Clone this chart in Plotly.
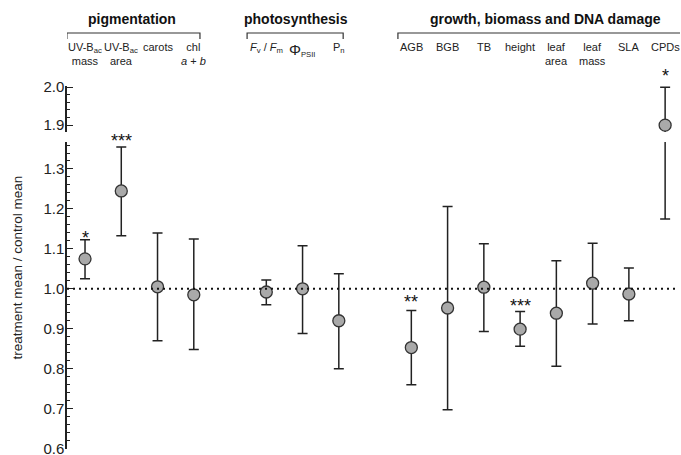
import plotly.graph_objects as go

# ---------------- data ----------------
labels = ["UV-B<sub>ac</sub><br>mass", "UV-B<sub>ac</sub><br>area", "carots", "chl<br><i>a</i> + <i>b</i>",
          "<i>F</i><sub>v</sub> / <i>F</i><sub>m</sub>", "<span style='font-size:15px'>Φ</span><sub>PSII</sub>", "P<sub>n</sub>",
          "AGB", "BGB", "TB", "height", "leaf<br>area", "leaf<br>mass", "SLA", "CPDs"]
xpos = [0, 1, 2, 3, 5, 6, 7, 9, 10, 11, 12, 13, 14, 15, 16]
means = [1.075, 1.245, 1.005, 0.985, 0.992, 1.000, 0.920, 0.853, 0.952, 1.004, 0.899, 0.939, 1.014, 0.987, 1.900]
upper = [1.123, 1.355, 1.140, 1.125, 1.022, 1.108, 1.038, 0.946, 1.206, 1.113, 0.943, 1.070, 1.114, 1.052, 2.000]
lower = [1.025, 1.133, 0.870, 0.848, 0.960, 0.888, 0.800, 0.760, 0.697, 0.893, 0.856, 0.806, 0.912, 0.920, 1.175]
stars = ["*", "***", "", "", "", "", "", "**", "", "", "***", "", "", "", "*"]
star_y = [1.138, 1.385, None, None, None, None, None, 0.976, None, None, 0.968, None, None, None, 2.06]
low_ticks = [0.6, 0.7, 0.8, 0.9, 1.0, 1.1, 1.2, 1.3]
high_ticks = [1.9, 2.0]

groups = ["pigmentation", "photosynthesis", "growth, biomass and DNA damage"]
group_center = [1.3, 5.82, 12.69]
group_span = [(-0.5, 3.17), (4.47, 7.12), (8.63, 16.9)]

err_plus = [u - m for u, m in zip(upper, means)]
err_minus = [m - l for m, l in zip(means, lower)]

INK = "#222222"
FONT = "Liberation Sans, Arial, sans-serif"

fig = go.Figure()

marker = dict(symbol="circle", size=12, color="#a9a9a9", line=dict(color="#333333", width=1.3))
err_common = dict(type="data", symmetric=False, color=INK, thickness=1.5, width=5)

# lower (main) panel
fig.add_trace(go.Scatter(
    x=xpos, y=means, mode="markers", marker=marker, xaxis="x", yaxis="y",
    error_y=dict(array=err_plus, arrayminus=err_minus, **err_common),
    cliponaxis=True, showlegend=False, hoverinfo="skip"))
# upper (break) panel
fig.add_trace(go.Scatter(
    x=xpos, y=means, mode="markers", marker=marker, xaxis="x", yaxis="y2",
    error_y=dict(array=err_plus, arrayminus=err_minus, **err_common),
    cliponaxis=True, showlegend=False, hoverinfo="skip"))

xr = [-0.497, 16.41]
axis_common = dict(ticks="inside", ticklen=6, tickwidth=1.3, tickcolor=INK,
                   showline=True, linecolor=INK, linewidth=1.5, showgrid=False, zeroline=False,
                   tickfont=dict(size=15, color=INK), anchor="x", ticklabelstandoff=-2,
                   ticklabeloverflow="allow", automargin=False)
fig.update_layout(
    width=681, height=455,
    margin=dict(l=67, r=1, t=86, b=6, autoexpand=False),
    paper_bgcolor="white", plot_bgcolor="white",
    font=dict(family=FONT, color=INK, size=14),
    xaxis=dict(range=xr, visible=False, showgrid=False, zeroline=False, automargin=False),
    yaxis=dict(domain=[0, 0.8457], range=[0.599, 1.3675], tickvals=low_ticks,
               ticktext=[f"{v:.1f}" for v in low_ticks],
               minor=dict(tickvals=[round(0.6 + 0.02 * i, 2) for i in range(39)], ticks="inside", ticklen=3, tickcolor=INK, tickwidth=1),
               **axis_common),
    yaxis2=dict(domain=[0.8733, 1], range=[1.882, 2.003], tickvals=high_ticks, ticktext=[f"{v:.1f}" for v in high_ticks],
                minor=dict(tickvals=[1.92, 1.94, 1.96, 1.98], ticks="inside", ticklen=3, tickcolor=INK, tickwidth=1),
                **axis_common),
)

# dotted reference line at 1.0
fig.add_shape(type="line", xref="paper", x0=0, x1=0.997, yref="y", y0=1.0, y1=1.0,
              line=dict(color="#111111", width=2, dash="2px,4px"))

def py(pix):
    return (449 - pix) / 363.0

# category labels
for x, lab in zip(xpos, labels):
    fig.add_annotation(x=x, xref="x", y=py(39), yref="paper", text=lab, showarrow=False,
                       yanchor="top", xanchor="center", font=dict(size=11, color=INK, family=FONT))

# group titles and brackets
for g, c, (a, b) in zip(groups, group_center, group_span):
    fig.add_annotation(x=c, xref="x", y=py(19), yref="paper", text="<b>" + g + "</b>", showarrow=False,
                       yanchor="middle", xanchor="center", font=dict(size=14, color="#111111", family=FONT))
    fig.add_shape(type="path", xref="x", yref="paper",
                  path=f"M {a},{py(39)} L {a},{py(33)} L {b},{py(33)} L {b},{py(39)}",
                  line=dict(color="#333333", width=1.2))

# significance stars
for x, s, sy, m in zip(xpos, stars, star_y, means):
    if not s:
        continue
    if sy > 1.5:
        fig.add_annotation(x=x, xref="x", y=py(76), yref="paper", text=s, showarrow=False,
                           yanchor="middle", font=dict(size=18, color="#111111", family=FONT))
    elif sy > 1.37:
        fig.add_annotation(x=x, xref="x", y=py(141), yref="paper", text=s, showarrow=False,
                           yanchor="middle", font=dict(size=18, color="#111111", family=FONT))
    else:
        fig.add_annotation(x=x, xref="x", y=sy, yref="y", text=s, showarrow=False, yshift=-4,
                           yanchor="middle", font=dict(size=18, color="#111111", family=FONT))

# y-axis title
fig.add_annotation(x=-0.08, xref="paper", xanchor="center", y=0.5, yref="paper",
                   text="treatment mean / control mean",
                   showarrow=False, textangle=-90, font=dict(size=13.5, color=INK, family=FONT))

fig.write_html("out.html", config={"displayModeBar": False},
               post_script="document.body.style.margin='0px';")
